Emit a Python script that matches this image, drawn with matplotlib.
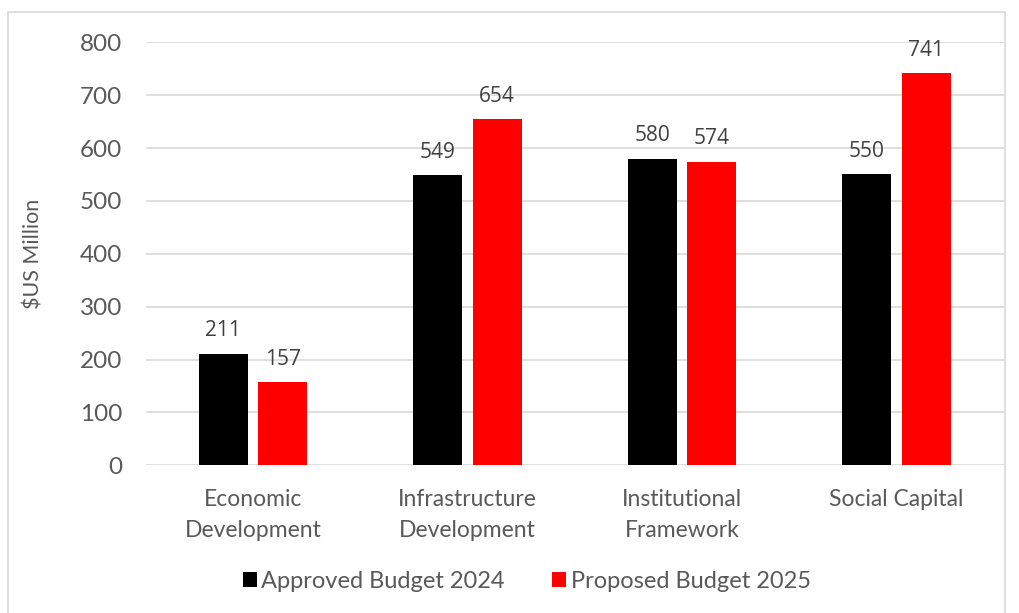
#!/usr/bin/env python3
"""Budget by sector: approved 2024 vs proposed 2025."""

import matplotlib.pyplot as plt
import numpy as np
from matplotlib.patches import Rectangle

CATEGORIES = ["Economic\nDevelopment", "Infrastructure\nDevelopment",
              "Institutional\nFramework", "Social Capital"]
APPROVED_2024 = [211, 549, 580, 550]
PROPOSED_2025 = [157, 654, 574, 741]
SERIES = ["Approved Budget 2024", "Proposed Budget 2025"]

TEXT = "#595959"
GRID = "#d9d9d9"
FONT = ["Lato", "DejaVu Sans"]
LABEL_FONT = ["Open Sans", "DejaVu Sans"]


def main() -> None:
    fig = plt.figure(figsize=(10.19, 6.13), dpi=100)
    fig.patches.append(Rectangle((0.008, -0.01), 0.978, 0.99, transform=fig.transFigure,
                                 fill=False, edgecolor=GRID, linewidth=1.2))
    ax = fig.add_axes([0.143, 0.241, 0.842, 0.690])

    x = np.arange(len(CATEGORIES))
    w = 0.229
    off = 0.139
    b1 = ax.bar(x - off, APPROVED_2024, w, color="black", label=SERIES[0], zorder=3)
    b2 = ax.bar(x + off, PROPOSED_2025, w, color="#ff0000", label=SERIES[1], zorder=3)
    for bars in (b1, b2):
        ax.bar_label(bars, padding=9, fontsize=15, color="#404040", family=LABEL_FONT)

    ax.set_xlim(-0.5, len(CATEGORIES) - 0.5)
    ax.set_ylim(0, 800)
    ax.set_yticks(range(0, 801, 100))
    ax.set_xticks(x)
    ax.set_xticklabels(CATEGORIES, fontsize=16.5, color=TEXT, family=FONT, linespacing=1.6)
    for lab in ax.get_yticklabels():
        lab.set_fontsize(17.5)
        lab.set_color(TEXT)
        lab.set_family(FONT)
    ax.tick_params(axis="both", length=0)
    ax.tick_params(axis="y", pad=17)
    ax.tick_params(axis="x", pad=17)
    ax.grid(axis="y", color=GRID, linewidth=1.2, zorder=0)
    for s in ax.spines.values():
        s.set_visible(False)
    ax.set_ylabel("$US Million", fontsize=15.5, color=TEXT, family=FONT, labelpad=26)

    fig.legend(loc="center", bbox_to_anchor=(0.517, 0.052), ncol=2, frameon=False,
               prop={"family": FONT, "size": 17}, labelcolor=TEXT,
               handlelength=0.6, handleheight=0.6, handletextpad=0.2, columnspacing=2.0)

    fig.savefig("out.png", dpi=100)
    plt.close(fig)


if __name__ == "__main__":
    main()
